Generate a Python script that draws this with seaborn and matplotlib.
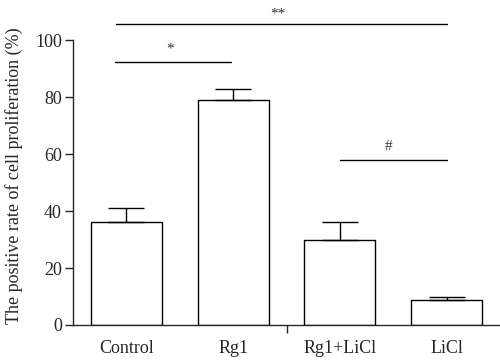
import matplotlib
matplotlib.use("Agg")
import matplotlib.pyplot as plt
import seaborn as sns
import numpy as np

# data
groups = ["Control", "Rg1", "Rg1+LiCl", "LiCl"]
means = [36.0, 78.9, 29.8, 8.8]
errs = [5.2, 4.0, 6.4, 1.1]

# significance brackets: (x0, x1, y, label, label_x, label_y)
sig_x0 = [-0.11, -0.10, 2.0]
sig_x1 = [0.98, 3.0, 3.0]
sig_y = [92.4, 105.7, 57.9]
sig_lab = ["*", "**", "#"]
sig_lab_x = [0.41, 1.42, 2.46]
sig_lab_y = [94.5, 107.0, 60.5]

sns.set_style("ticks")
plt.rcParams["font.family"] = ["Liberation Serif", "DejaVu Serif"]

fig = plt.figure(figsize=(5.0, 3.63), dpi=100)
ax = fig.add_axes([0.146, 0.1047, 0.854, 0.887])

sns.barplot(x=groups, y=means, color="white", edgecolor="black",
            linewidth=1.0, width=0.665, ax=ax, saturation=1)
ax.errorbar(np.arange(len(groups)), means, yerr=[np.zeros(len(errs)), errs],
            fmt="none", ecolor="black", elinewidth=1.0, capsize=13, capthick=1.0,
            zorder=1)

for x0, x1, y, lab, lx, ly in zip(sig_x0, sig_x1, sig_y, sig_lab, sig_lab_x, sig_lab_y):
    ax.plot([x0, x1], [y, y], color="black", lw=1.0, clip_on=False)
    ax.text(lx, ly, lab, ha="center", va="bottom", fontsize=11, color="#333333")

ax.set_xlim(-0.5, 3.5)
ax.set_ylim(0, 113)
ax.set_yticks([0, 20, 40, 60, 80, 100])
ax.spines["left"].set_bounds(0, 100)
ax.spines["top"].set_visible(False)
ax.spines["right"].set_visible(False)
ax.spines["left"].set_linewidth(1.0)
ax.spines["bottom"].set_linewidth(1.0)
ax.tick_params(axis="y", length=6, width=1.0, labelsize=13, direction="out", pad=2)
ax.tick_params(axis="x", length=0, labelsize=13, pad=11)
ax.set_xticks([1.5], minor=True)
ax.tick_params(axis="x", which="minor", length=6, width=1.0, direction="out")
ax.set_ylabel("The positive rate of cell proliferation (%)", fontsize=13)
ax.yaxis.set_label_coords(-0.118, 0.463)
ax.set_xlabel("")

plt.savefig("out.png", dpi=100)
